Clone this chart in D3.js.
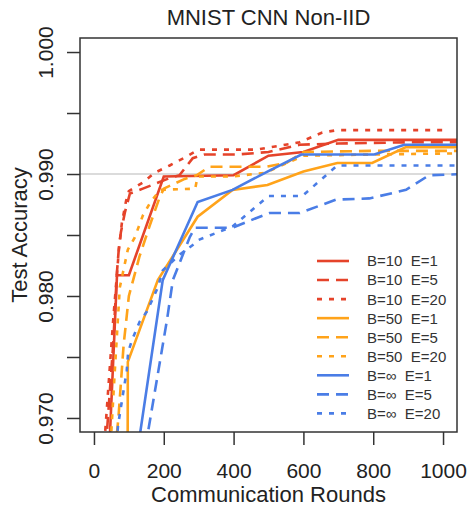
<!DOCTYPE html>
<html>
<head>
<meta charset="utf-8">
<script src="https://cdnjs.cloudflare.com/ajax/libs/d3/7.8.5/d3.min.js"></script>
<style>
body { margin: 0; background: #fff; }
text { font-family: "Liberation Sans", Arial, Helvetica, sans-serif; fill: #222; }
</style>
</head>
<body>
<div id="chart"></div>
<script>
// values: [round, test accuracy]
const b10e1  = [[40,.9660],[46,.9688],[66,.9817],[100,.9817],[200,.9898],[400,.9899],[500,.9915],[600,.9918],[700,.9928],[1060,.9928]];
const b10e5  = [[30,.9660],[40,.9700],[55,.9760],[66,.9820],[71,.9838],[77,.9852],[89,.9869],[103,.9884],[140,.9888],[220,.9897],[245,.9899],[283,.9913],[317,.9916],[409,.9916],[500,.9918],[589,.9924],[700,.9925],[900,.9926],[1060,.9926]];
const b10e20 = [[25,.9660],[35,.9700],[55,.9780],[65,.9815],[72,.9840],[80,.9860],[92,.9878],[100,.9886],[140,.9893],[174,.9901],[217,.9907],[263,.9914],[300,.9920],[466,.9920],[589,.9926],[654,.9934],[697,.9936],[1000,.9936]];
const b50e1  = [[96,.9600],[97,.9746],[183,.9813],[297,.9865],[397,.9887],[497,.9891],[600,.9902],[697,.9909],[797,.9909],[894,.9922],[1060,.9922]];
const b50e5  = [[50,.9640],[70,.9700],[85,.9760],[100,.9800],[130,.9832],[160,.9858],[187,.9880],[200,.9888],[260,.9896],[294,.9899],[331,.9906],[494,.9906],[551,.9909],[600,.9918],[800,.9919],[1060,.9919]];
const b50e20 = [[40,.9640],[60,.9740],[74,.9807],[97,.9838],[117,.9848],[140,.9866],[160,.9876],[189,.9887],[290,.9888],[297,.9898],[397,.9898],[490,.9901],[600,.9915],[800,.9916],[1060,.9917]];
const binfe1 = [[118,.9660],[197,.9813],[297,.9877],[397,.9887],[497,.9902],[594,.9916],[803,.9916],[889,.9924],[1060,.9924]];
const binfe5 = [[138,.9660],[209,.9780],[226,.9813],[274,.9848],[289,.9856],[397,.9856],[466,.9864],[503,.9868],[589,.9868],[694,.9879],[789,.9880],[894,.9887],[960,.9899],[1060,.9900]];
const binfe20 = [[60,.9660],[69,.9694],[94,.9739],[98,.9754],[109,.9764],[131,.9779],[151,.9787],[169,.9798],[183,.9807],[197,.9821],[246,.9834],[289,.9843],[300,.9846],[397,.9857],[500,.9882],[597,.9882],[697,.9907],[1060,.9907]];

const seriesNames = ["B=10  E=1","B=10  E=5","B=10  E=20","B=50  E=1","B=50  E=5","B=50  E=20","B=\u221e  E=1","B=\u221e  E=5","B=\u221e  E=20"];
const seriesData = [b10e1,b10e5,b10e20,b50e1,b50e5,b50e20,binfe1,binfe5,binfe20];
const xTicks = [0,200,400,600,800,1000];
const yTicks = [0.970,0.975,0.980,0.985,0.990,0.995,1.000];
const yLabelled = [0.970,0.980,0.990,1.000];
const refLine = 0.990;

const colors = ["#e5432a","#ffa31a","#4a7de6"];
const dashes = [null,"12,7","5,7"];

const W = 469, H = 510;
const pL = 80, pR = 457, pT = 38, pB = 432;

const svg = d3.select("#chart").append("svg")
  .attr("width", W).attr("height", H);

const x = d3.scaleLinear().domain([-40,1040]).range([pL,pR]);
const y = d3.scaleLinear().domain([0.96885,1.00115]).range([pB,pT]);

svg.append("defs").append("clipPath").attr("id","plotclip")
  .append("rect").attr("x",pL).attr("y",pT)
  .attr("width",pR-pL).attr("height",pB-pT);

// grey reference line
svg.append("line")
  .attr("x1",pL).attr("x2",pR)
  .attr("y1",y(refLine)).attr("y2",y(refLine))
  .style("stroke","#cfcfcf").style("stroke-width",1.5);

const line = d3.line().x(d=>x(d[0])).y(d=>y(d[1]));

const g = svg.append("g").attr("clip-path","url(#plotclip)");
seriesData.forEach((s,i)=>{
  g.append("path")
    .attr("d",line(s))
    .style("fill","none")
    .style("stroke",colors[Math.floor(i/3)])
    .style("stroke-width",2.6)
    .style("stroke-dasharray",dashes[i%3]);
});

// frame
svg.append("rect")
  .attr("x",pL).attr("y",pT)
  .attr("width",pR-pL).attr("height",pB-pT)
  .style("fill","none").style("stroke","#333").style("stroke-width",1.5);

// x axis
const xa = svg.append("g")
  .attr("transform","translate(0,"+pB+")")
  .call(d3.axisBottom(x).tickValues(xTicks).tickSize(13).tickPadding(18).tickFormat(d3.format("d")));
xa.select(".domain").remove();
xa.selectAll("line").style("stroke","#333").style("stroke-width",1.5);
xa.selectAll("text").style("font-size","21px");

// y axis
const ya = svg.append("g")
  .attr("transform","translate("+pL+",0)")
  .call(d3.axisLeft(y).tickValues(yTicks).tickSize(13)
    .tickFormat(d=>yLabelled.some(v=>Math.abs(v-d)<1e-9) ? d3.format(".3f")(d) : ""));
ya.select(".domain").remove();
ya.selectAll("line").style("stroke","#333").style("stroke-width",1.5);
ya.selectAll("text")
  .attr("transform","rotate(-90)")
  .attr("x",0).attr("y",-27).attr("dy",null)
  .style("text-anchor","middle")
  .style("font-size","21px");

// titles
svg.append("text")
  .attr("x",(pL+pR)/2).attr("y",25)
  .style("text-anchor","middle").style("font-size","22px")
  .text("MNIST CNN Non-IID");

svg.append("text")
  .attr("x",(pL+pR)/2).attr("y",502)
  .style("text-anchor","middle").style("font-size","22px")
  .text("Communication Rounds");

svg.append("text")
  .attr("transform","translate(27,"+((pT+pB)/2)+") rotate(-90)")
  .style("text-anchor","middle").style("font-size","22px")
  .text("Test Accuracy");

// legend
const lg = svg.append("g");
seriesNames.forEach((name,i)=>{
  const ly = 261 + i*19.05;
  lg.append("line")
    .attr("x1",317).attr("x2",349).attr("y1",ly).attr("y2",ly)
    .style("stroke",colors[Math.floor(i/3)])
    .style("stroke-width",2.6)
    .style("stroke-dasharray",dashes[i%3]);
  lg.append("text")
    .attr("x",367).attr("y",ly).attr("dy","0.36em")
    .style("font-size","15px").style("fill","#333")
    .style("white-space","pre")
    .text(name);
});
</script>
</body>
</html>
